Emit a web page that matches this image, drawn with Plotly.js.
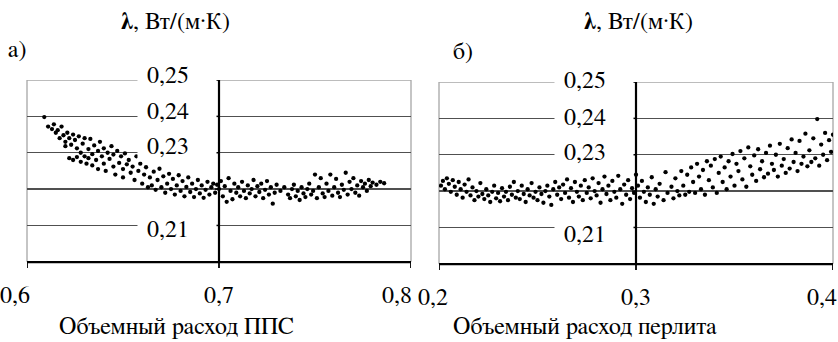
<!DOCTYPE html>
<html><head><meta charset="utf-8">
<script src="https://cdn.plot.ly/plotly-3.0.1.min.js"></script>
<style>
html,body{margin:0;padding:0;background:#fff;}
#chart{width:838px;height:342px;}
</style>
</head><body><div id="chart"></div>
<script>
// Panel a) — volumetric flow of PPS vs thermal conductivity
const xA = [0.609,0.611,0.613,0.614,0.615,0.616,0.617,0.618,0.619,0.620,0.620,0.621,0.622,0.622,0.623,0.624,0.624,0.625,0.626,0.626,0.627,0.628,0.628,0.629,0.630,0.630,0.631,0.632,0.632,0.633,0.634,0.634,0.635,0.636,0.637,0.637,0.638,0.639,0.640,0.640,0.641,0.642,0.643,0.644,0.645,0.645,0.646,0.647,0.648,0.649,0.650,0.650,0.651,0.652,0.653,0.654,0.655,0.656,0.657,0.658,0.659,0.660,0.661,0.662,0.663,0.664,0.665,0.666,0.667,0.668,0.669,0.670,0.671,0.672,0.673,0.674,0.675,0.676,0.677,0.678,0.679,0.680,0.681,0.682,0.683,0.684,0.685,0.686,0.687,0.688,0.689,0.690,0.691,0.692,0.693,0.694,0.695,0.696,0.697,0.698,0.699,0.700,0.701,0.702,0.703,0.704,0.705,0.706,0.707,0.708,0.709,0.710,0.711,0.712,0.713,0.714,0.715,0.716,0.717,0.718,0.719,0.720,0.721,0.722,0.723,0.724,0.725,0.726,0.727,0.728,0.729,0.730,0.732,0.734,0.736,0.737,0.738,0.739,0.740,0.741,0.742,0.743,0.744,0.745,0.746,0.747,0.748,0.749,0.750,0.751,0.752,0.753,0.754,0.755,0.756,0.757,0.758,0.759,0.760,0.761,0.762,0.763,0.764,0.765,0.766,0.767,0.768,0.769,0.770,0.771,0.772,0.773,0.774,0.775,0.776,0.777,0.778,0.779,0.780,0.782,0.784,0.786];
const yA = [0.2398,0.2372,0.2365,0.2378,0.2355,0.2362,0.2340,0.2372,0.2348,0.2330,0.2318,0.2355,0.2340,0.2285,0.2322,0.2350,0.2280,0.2335,0.2312,0.2288,0.2345,0.2300,0.2275,0.2325,0.2290,0.2340,0.2270,0.2310,0.2285,0.2338,0.2296,0.2265,0.2320,0.2280,0.2305,0.2255,0.2330,0.2290,0.2270,0.2312,0.2250,0.2300,0.2283,0.2318,0.2262,0.2295,0.2240,0.2305,0.2272,0.2290,0.2255,0.2232,0.2298,0.2268,0.2280,0.2245,0.2262,0.2225,0.2290,0.2250,0.2270,0.2215,0.2240,0.2260,0.2205,0.2232,0.2210,0.2248,0.2198,0.2225,0.2256,0.2205,0.2235,0.2190,0.2215,0.2242,0.2200,0.2228,0.2185,0.2210,0.2238,0.2195,0.2222,0.2180,0.2206,0.2232,0.2192,0.2215,0.2178,0.2200,0.2225,0.2188,0.2210,0.2176,0.2198,0.2220,0.2185,0.2205,0.2215,0.2190,0.2212,0.2200,0.2222,0.2180,0.2208,0.2165,0.2230,0.2195,0.2172,0.2215,0.2190,0.2205,0.2180,0.2220,0.2195,0.2175,0.2210,0.2188,0.2200,0.2225,0.2180,0.2208,0.2192,0.2215,0.2175,0.2198,0.2222,0.2185,0.2205,0.2160,0.2190,0.2212,0.2195,0.2205,0.2185,0.2175,0.2200,0.2212,0.2180,0.2195,0.2170,0.2205,0.2188,0.2178,0.2200,0.2215,0.2185,0.2195,0.2240,0.2175,0.2205,0.2230,0.2188,0.2178,0.2215,0.2195,0.2240,0.2182,0.2205,0.2228,0.2190,0.2178,0.2212,0.2198,0.2245,0.2185,0.2220,0.2200,0.2230,0.2190,0.2210,0.2182,0.2222,0.2205,0.2215,0.2195,0.2225,0.2208,0.2218,0.2212,0.2220,0.2216];

// Panel б) — volumetric flow of perlite vs thermal conductivity
const xB = [0.201,0.202,0.203,0.204,0.205,0.206,0.207,0.208,0.209,0.210,0.211,0.212,0.213,0.214,0.215,0.216,0.217,0.218,0.219,0.220,0.221,0.222,0.223,0.224,0.225,0.226,0.227,0.228,0.229,0.230,0.231,0.232,0.233,0.234,0.235,0.236,0.237,0.238,0.239,0.240,0.241,0.242,0.243,0.244,0.245,0.246,0.247,0.248,0.249,0.250,0.251,0.252,0.253,0.254,0.255,0.256,0.257,0.258,0.259,0.260,0.261,0.262,0.263,0.264,0.265,0.266,0.267,0.268,0.269,0.270,0.271,0.272,0.273,0.274,0.275,0.276,0.277,0.278,0.279,0.280,0.281,0.282,0.283,0.284,0.285,0.286,0.287,0.288,0.289,0.290,0.291,0.292,0.293,0.294,0.295,0.296,0.297,0.298,0.299,0.300,0.301,0.302,0.303,0.304,0.305,0.306,0.307,0.308,0.309,0.310,0.311,0.312,0.314,0.315,0.316,0.318,0.319,0.320,0.321,0.322,0.323,0.324,0.325,0.326,0.327,0.328,0.329,0.330,0.331,0.332,0.333,0.334,0.335,0.336,0.337,0.338,0.339,0.340,0.341,0.342,0.343,0.344,0.345,0.346,0.347,0.348,0.349,0.350,0.351,0.352,0.353,0.354,0.355,0.356,0.357,0.358,0.359,0.360,0.361,0.362,0.363,0.364,0.365,0.366,0.367,0.368,0.369,0.370,0.371,0.372,0.373,0.374,0.375,0.376,0.377,0.378,0.379,0.380,0.381,0.382,0.383,0.384,0.385,0.386,0.387,0.388,0.389,0.390,0.391,0.392,0.393,0.394,0.395,0.396,0.397,0.398,0.399,0.400];
const yB = [0.2215,0.2228,0.2205,0.2235,0.2220,0.2198,0.2230,0.2212,0.2190,0.2225,0.2205,0.2182,0.2218,0.2198,0.2232,0.2188,0.2210,0.2175,0.2200,0.2185,0.2222,0.2192,0.2178,0.2205,0.2188,0.2170,0.2198,0.2215,0.2180,0.2195,0.2172,0.2208,0.2185,0.2198,0.2175,0.2212,0.2190,0.2225,0.2182,0.2200,0.2178,0.2215,0.2192,0.2170,0.2205,0.2188,0.2222,0.2182,0.2198,0.2175,0.2210,0.2192,0.2168,0.2200,0.2215,0.2185,0.2162,0.2205,0.2225,0.2190,0.2210,0.2178,0.2218,0.2195,0.2232,0.2182,0.2208,0.2170,0.2225,0.2198,0.2185,0.2215,0.2175,0.2230,0.2195,0.2210,0.2180,0.2235,0.2200,0.2188,0.2222,0.2168,0.2205,0.2240,0.2192,0.2215,0.2175,0.2228,0.2198,0.2182,0.2242,0.2205,0.2165,0.2218,0.2190,0.2230,0.2178,0.2208,0.2195,0.2245,0.2215,0.2182,0.2228,0.2198,0.2170,0.2210,0.2190,0.2238,0.2165,0.2205,0.2185,0.2220,0.2175,0.2252,0.2195,0.2212,0.2180,0.2235,0.2200,0.2188,0.2255,0.2215,0.2190,0.2245,0.2198,0.2265,0.2225,0.2195,0.2275,0.2240,0.2205,0.2258,0.2190,0.2282,0.2230,0.2270,0.2210,0.2288,0.2195,0.2250,0.2295,0.2225,0.2265,0.2205,0.2282,0.2240,0.2302,0.2215,0.2275,0.2255,0.2310,0.2232,0.2290,0.2212,0.2320,0.2268,0.2245,0.2298,0.2228,0.2315,0.2260,0.2282,0.2238,0.2305,0.2248,0.2325,0.2275,0.2258,0.2300,0.2240,0.2330,0.2270,0.2288,0.2250,0.2318,0.2262,0.2342,0.2280,0.2305,0.2255,0.2338,0.2275,0.2295,0.2358,0.2268,0.2312,0.2280,0.2345,0.2290,0.2398,0.2270,0.2328,0.2300,0.2360,0.2285,0.2340,0.2308,0.2355];

// Axis tick values and labels
const xTicksA = [0.6, 0.7, 0.8];
const xTextA = ['0,6', '0,7', '0,8'];
const xTicksB = [0.2, 0.3, 0.4];
const xTextB = ['0,2', '0,3', '0,4'];
const yGrid = [0.20, 0.21, 0.22, 0.23, 0.24];
const yTickVals = [0.20, 0.21, 0.22, 0.23, 0.24, 0.25];
const yLabelVals = [0.25, 0.24, 0.23, 0.21];
const yLabelText = ['0,25', '0,24', '0,23', '0,21'];
const yTitle = '<b>λ</b>, Вт/(м·К)';
const xTitleA = 'Объемный расход ППС';
const xTitleB = 'Объемный расход перлита';

// styling / layout
const FONT = 'FreeSerif';
const FS = 24;
const lblShiftA = [4, 4, 6, -5];
const lblShiftB = [1, 0, 2, -8];
const xLblShiftA = [-12, 0, -14];
const xLblShiftB = [-6, 0, -11];

const W = 838, H = 342;
const domXA = [27 / W, 411 / W], domXB = [439 / W, 833 / W];
const yRange = [0.1994, 0.25];
const domYA = [(H - 264) / H, (H - 80) / H], domYB = [(H - 266) / H, (H - 82) / H];

const marker = {color: '#000', size: 4.3, symbol: 'circle'};
const traces = [
  {x: xA, y: yA, xaxis: 'x', yaxis: 'y', type: 'scatter', mode: 'markers', marker: marker, hoverinfo: 'skip'},
  {x: xB, y: yB, xaxis: 'x2', yaxis: 'y2', type: 'scatter', mode: 'markers', marker: marker, hoverinfo: 'skip'}
];

function xax(dom, rng, tv, anchor) {
  return {domain: dom, range: rng, anchor: anchor, showline: false, ticks: '', tickvals: tv, showticklabels: false,
    showgrid: false, zeroline: false, fixedrange: true};
}
function yax(dom, anchor) {
  return {domain: dom, range: yRange, anchor: anchor, showline: false, ticks: '',
    tickvals: yGrid, showticklabels: false,
    showgrid: true, gridcolor: '#505050', gridwidth: 1.3, zeroline: false, fixedrange: true};
}

const tfont = {family: FONT, size: FS, color: '#000'};
const annotations = [];
yLabelVals.forEach((v, i) => {
  annotations.push({x: xTicksA[1], y: v, xref: 'x', yref: 'y', text: '&nbsp;' + yLabelText[i], showarrow: false,
    xanchor: 'right', yanchor: 'middle', xshift: -2, yshift: lblShiftA[i], bgcolor: '#fff', width: 72, height: 22, borderpad: 3, align: 'left', font: tfont});
  annotations.push({x: xTicksB[1], y: v, xref: 'x2', yref: 'y2', text: '&nbsp;' + yLabelText[i], showarrow: false,
    xanchor: 'right', yanchor: 'middle', xshift: -2, yshift: lblShiftB[i], bgcolor: '#fff', width: 72, height: 22, borderpad: 3, align: 'left', font: tfont});
});
xTicksA.forEach((v, i) => annotations.push({x: v, y: yGrid[0], xref: 'x', yref: 'y', text: xTextA[i], showarrow: false,
  xanchor: 'center', yanchor: 'top', yshift: -20, xshift: xLblShiftA[i], font: tfont}));
xTicksB.forEach((v, i) => annotations.push({x: v, y: yGrid[0], xref: 'x2', yref: 'y2', text: xTextB[i], showarrow: false,
  xanchor: 'center', yanchor: 'top', yshift: -20, xshift: xLblShiftB[i], font: tfont}));
annotations.push({x: 175 / W, y: 1 - 22 / H, xref: 'paper', yref: 'paper', text: yTitle, showarrow: false, xanchor: 'center', yanchor: 'middle', font: tfont});
annotations.push({x: 638 / W, y: 1 - 22 / H, xref: 'paper', yref: 'paper', text: yTitle, showarrow: false, xanchor: 'center', yanchor: 'middle', font: tfont});
annotations.push({x: 17 / W, y: 1 - 50 / H, xref: 'paper', yref: 'paper', text: 'а)', showarrow: false, xanchor: 'center', yanchor: 'middle', font: tfont});
annotations.push({x: 463 / W, y: 1 - 52 / H, xref: 'paper', yref: 'paper', text: 'б)', showarrow: false, xanchor: 'center', yanchor: 'middle', font: tfont});
annotations.push({x: 176 / W, y: 1 - 327 / H, xref: 'paper', yref: 'paper', text: xTitleA, showarrow: false, xanchor: 'center', yanchor: 'middle', font: tfont});
annotations.push({x: 585 / W, y: 1 - 327 / H, xref: 'paper', yref: 'paper', text: xTitleB, showarrow: false, xanchor: 'center', yanchor: 'middle', font: tfont});

const border = {color: '#a6a6a6', width: 1.3};
const axLine = {color: '#000', width: 2.2};
const tickLine = {color: '#000', width: 1.5};
const noLine = {width: 0};
const shapes = [
  {type: 'line', xref: 'x domain', yref: 'y', x0: 0, x1: 0, y0: yGrid[0], y1: yTickVals[5], line: border, layer: 'below'},
  {type: 'line', xref: 'x domain', yref: 'y', x0: 1, x1: 1, y0: yGrid[0], y1: yTickVals[5], line: border, layer: 'below'},
  {type: 'line', xref: 'x domain', yref: 'y', x0: 0, x1: 1, y0: yTickVals[5], y1: yTickVals[5], line: border, layer: 'below'},
  {type: 'line', xref: 'x2 domain', yref: 'y2', x0: 0, x1: 0, y0: yGrid[0], y1: yTickVals[5], line: border, layer: 'below'},
  {type: 'line', xref: 'x2 domain', yref: 'y2', x0: 1, x1: 1, y0: yGrid[0], y1: yTickVals[5], line: border, layer: 'below'},
  {type: 'line', xref: 'x2 domain', yref: 'y2', x0: 0, x1: 1, y0: yTickVals[5], y1: yTickVals[5], line: border, layer: 'below'},
  // value axes crossing at the middle of each category axis
  {type: 'line', xref: 'x', yref: 'y', x0: xTicksA[1], x1: xTicksA[1], y0: yGrid[0], y1: yTickVals[5], line: axLine, layer: 'above'},
  {type: 'line', xref: 'x2', yref: 'y2', x0: xTicksB[1], x1: xTicksB[1], y0: yGrid[0], y1: yTickVals[5], line: axLine, layer: 'above'},
  // category (bottom) axes drawn as thin filled bands
  {type: 'rect', xref: 'x domain', yref: 'paper', x0: 0, x1: 1, y0: (H - 263.2) / H, y1: (H - 261) / H, fillcolor: '#000', line: noLine, layer: 'above'},
  {type: 'rect', xref: 'x2 domain', yref: 'paper', x0: 0, x1: 1, y0: (H - 265.2) / H, y1: (H - 263) / H, fillcolor: '#000', line: noLine, layer: 'above'}
];
yTickVals.forEach(v => {
  shapes.push({type: 'line', xref: 'x', yref: 'y', xsizemode: 'pixel', xanchor: xTicksA[1], x0: -4, x1: 0, y0: v, y1: v, line: tickLine, layer: 'above'});
  shapes.push({type: 'line', xref: 'x2', yref: 'y2', xsizemode: 'pixel', xanchor: xTicksB[1], x0: -4, x1: 0, y0: v, y1: v, line: tickLine, layer: 'above'});
});
xTicksA.forEach(v => shapes.push({type: 'rect', xref: 'x', yref: 'paper', xsizemode: 'pixel', xanchor: v, x0: -0.9, x1: 0.9, y0: (H - 268) / H, y1: (H - 262) / H, fillcolor: '#000', line: noLine, layer: 'above'}));
xTicksB.forEach(v => shapes.push({type: 'rect', xref: 'x2', yref: 'paper', xsizemode: 'pixel', xanchor: v, x0: -0.9, x1: 0.9, y0: (H - 270) / H, y1: (H - 264) / H, fillcolor: '#000', line: noLine, layer: 'above'}));

const layout = {
  width: W, height: H, margin: {l: 0, r: 0, t: 0, b: 0},
  paper_bgcolor: '#fff', plot_bgcolor: '#fff', showlegend: false,
  font: {family: FONT, size: FS, color: '#000'},
  xaxis: xax(domXA, [0.6, 0.8], xTicksA, 'y'),
  yaxis: yax(domYA, 'x'),
  xaxis2: xax(domXB, [0.2, 0.4], xTicksB, 'y2'),
  yaxis2: yax(domYB, 'x2'),
  annotations: annotations, shapes: shapes
};
Plotly.newPlot('chart', traces, layout, {staticPlot: true, displayModeBar: false});
</script></body></html>
